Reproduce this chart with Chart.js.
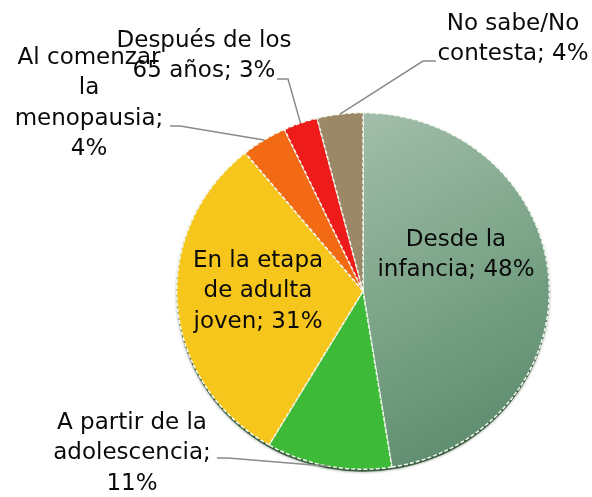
<!DOCTYPE html>
<html>
<head>
<meta charset="utf-8">
<script src="https://cdn.jsdelivr.net/npm/chart.js@4.4.0/dist/chart.umd.min.js"></script>
<style>
  html, body { margin: 0; padding: 0; background: #fff; }
  #wrap { width: 592px; height: 497px; }
</style>
</head>
<body>
<div id="wrap"><canvas id="pieChart" width="592" height="497"></canvas></div>
<script>
// data
const categories = ['Desde la infancia', 'A partir de la adolescencia', 'En la etapa de adulta joven',
    'Al comenzar la menopausia', 'Después de los 65 años', 'No sabe/No contesta'];
const values = [48, 11, 31, 4, 3, 4];
const colors = ['#7fa58b', '#3dba38', '#f7c61c', '#f36a14', '#ee1b1b', '#9b8866'];

// how many words go on each line of the label
const lineBreaks = [[2, 2], [4, 1, 1], [3, 2, 2], [2, 1, 1, 1], [3, 3], [2, 2]];
// label centre (first line) and where its leader line starts (null = inside the slice)
const labelPos = [
    { x: 456, y: 240, lead: null },
    { x: 132, y: 423, lead: [[217, 458], [228, 458]] },
    { x: 258, y: 261, lead: null },
    { x: 89, y: 58, lead: [[170, 126], [180, 126]] },
    { x: 204, y: 41, lead: [[277, 79], [288, 79]] },
    { x: 513, y: 24, lead: [[436, 61], [423, 61]] }
];

const FONT = '23px "DejaVu Sans", sans-serif';
const LINE_H = 30.5;
// the pie in the picture is a little wider than tall
const SX = 1.022, SY = 0.978;

function labelLines(i) {
    const words = (categories[i] + '; ' + values[i] + '%').split(' ');
    const out = [];
    let k = 0;
    lineBreaks[i].forEach(n => { out.push(words.slice(k, k + n).join(' ')); k += n; });
    return out;
}

const pieLabels = {
    id: 'pieLabels',
    beforeDatasetsDraw(chart) {
        const ctx = chart.ctx;
        const arc0 = chart.getDatasetMeta(0).data[0];
        ctx.save();
        ctx.translate(arc0.x, arc0.y);
        ctx.scale(SX, SY);
        ctx.translate(-arc0.x, -arc0.y);
        // dark rim under the bottom of the pie
        ctx.save();
        ctx.shadowColor = 'rgba(20,50,20,0.55)';
        ctx.shadowBlur = 3;
        ctx.fillStyle = '#3b5e40';
        ctx.beginPath();
        ctx.arc(arc0.x, arc0.y + 2.5, arc0.outerRadius, 0, Math.PI * 2);
        ctx.fill();
        ctx.restore();
    },
    afterDatasetsDraw(chart) {
        const ctx = chart.ctx;
        ctx.restore();
        const arcs = chart.getDatasetMeta(0).data;
        ctx.save();
        // leader lines
        ctx.strokeStyle = '#8a8a8a';
        ctx.lineWidth = 1.5;
        arcs.forEach((arc, i) => {
            const p = labelPos[i];
            if (!p.lead) return;
            const mid = (arc.startAngle + arc.endAngle) / 2;
            const ex = arc.x + Math.cos(mid) * arc.outerRadius * SX;
            const ey = arc.y + Math.sin(mid) * arc.outerRadius * SY;
            ctx.beginPath();
            ctx.moveTo(p.lead[0][0], p.lead[0][1]);
            ctx.lineTo(p.lead[1][0], p.lead[1][1]);
            ctx.lineTo(ex, ey);
            ctx.stroke();
        });
        // texts
        ctx.font = FONT;
        ctx.fillStyle = '#0a0a0a';
        ctx.textAlign = 'center';
        ctx.textBaseline = 'middle';
        arcs.forEach((arc, i) => {
            const p = labelPos[i];
            labelLines(i).forEach((t, j) => ctx.fillText(t, p.x, p.y + j * LINE_H));
        });
        ctx.restore();
    }
};

function sliceColor(c) {
    const i = c.dataIndex;
    const area = c.chart.chartArea;
    if (i !== 0 || !area) return colors[i];
    const g = c.chart.ctx.createLinearGradient(area.left + 120, area.top, area.right - 40, area.bottom);
    g.addColorStop(0, '#a9c2b0');
    g.addColorStop(0.5, '#7ea68a');
    g.addColorStop(1, '#58886a');
    return g;
}

new Chart(document.getElementById('pieChart'), {
    type: 'pie',
    data: {
        labels: categories,
        datasets: [{
            data: values,
            backgroundColor: sliceColor,
            borderColor: '#f4f9ee',
            borderWidth: 1.5,
            borderDash: [4, 2]
        }]
    },
    options: {
        responsive: false,
        animation: false,
        layout: { padding: { left: 180, right: 46, top: 108, bottom: 23 } },
        plugins: {
            legend: { display: false },
            tooltip: { enabled: false }
        }
    },
    plugins: [pieLabels]
});
</script>
</body>
</html>
